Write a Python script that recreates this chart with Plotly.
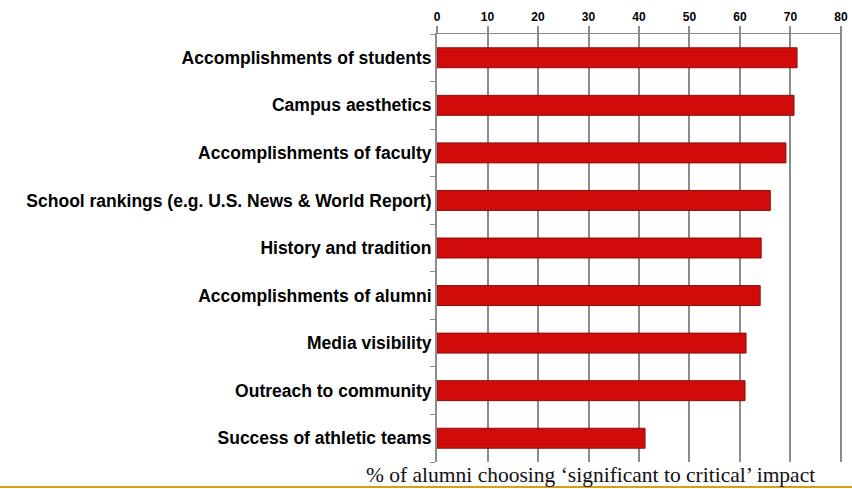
import plotly.graph_objects as go

categories = [
    "Accomplishments of students",
    "Campus aesthetics",
    "Accomplishments of faculty",
    "School rankings (e.g. U.S. News & World Report)",
    "History and tradition",
    "Accomplishments of alumni",
    "Media visibility",
    "Outreach to community",
    "Success of athletic teams",
]
values = [71.3, 70.7, 69.1, 66.0, 64.2, 64.0, 61.2, 61.0, 41.2]
x_ticks = [0, 10, 20, 30, 40, 50, 60, 70, 80]

W, H = 852, 489
L, R, T, B = 437, 10, 34, 27

fig = go.Figure(go.Bar(
    y=categories,
    x=values,
    orientation="h",
    width=0.42,
    marker={"color": "#d10a0a", "line": {"color": "#8a1010", "width": 1}},
))

pw = W - L - R
ph = H - T - B

fig.update_layout(
    width=W,
    height=H,
    margin={"l": L, "r": R, "t": T, "b": B},
    paper_bgcolor="white",
    plot_bgcolor="white",
    showlegend=False,
    font={"family": "Liberation Sans, Arial", "color": "black"},
    xaxis={
        "side": "top",
        "range": [0, 80.2],
        "tickvals": x_ticks,
        "ticktext": [f"<b>{t}</b>" for t in x_ticks],
        "tickfont": {"size": 12},
        "ticks": "outside",
        "ticklen": 7,
        "tickwidth": 2,
        "tickcolor": "#8c8c8c",
        "showgrid": True,
        "gridcolor": "#8c8c8c",
        "gridwidth": 2,
        "showline": True,
        "linecolor": "#8c8c8c",
        "linewidth": 1,
        "zeroline": False,
        "automargin": False,
        "fixedrange": True,
    },
    yaxis={
        "autorange": "reversed",
        "tickvals": categories,
        "ticktext": [f"<b>{c}</b>" for c in categories],
        "tickfont": {"size": 17.5},
        "ticks": "outside",
        "tickson": "boundaries",
        "ticklen": 5,
        "tickcolor": "#8c8c8c",
        "showline": True,
        "linecolor": "#8c8c8c",
        "linewidth": 2,
        "showgrid": False,
        "automargin": False,
        "fixedrange": True,
    },
    annotations=[{
        "text": "% of alumni choosing ‘significant to critical’ impact",
        "xref": "paper", "yref": "paper",
        "x": (590 - L) / pw, "y": -(475 - (H - B)) / ph,
        "xanchor": "center", "yanchor": "middle",
        "showarrow": False,
        "font": {"family": "Liberation Serif, Times New Roman", "size": 21.5, "color": "#111"},
    }],
    shapes=[{
        "type": "line",
        "xref": "paper", "yref": "paper",
        "x0": -L / pw, "x1": (W - L) / pw,
        "y0": -(487 - (H - B)) / ph, "y1": -(487 - (H - B)) / ph,
        "line": {"color": "#d4a017", "width": 2},
    }],
)

# drop the default page margin so the figure sits at the window's corner
fig.write_html(
    "out.html",
    config={"displayModeBar": False},
    post_script="document.body.style.margin='0';",
)
